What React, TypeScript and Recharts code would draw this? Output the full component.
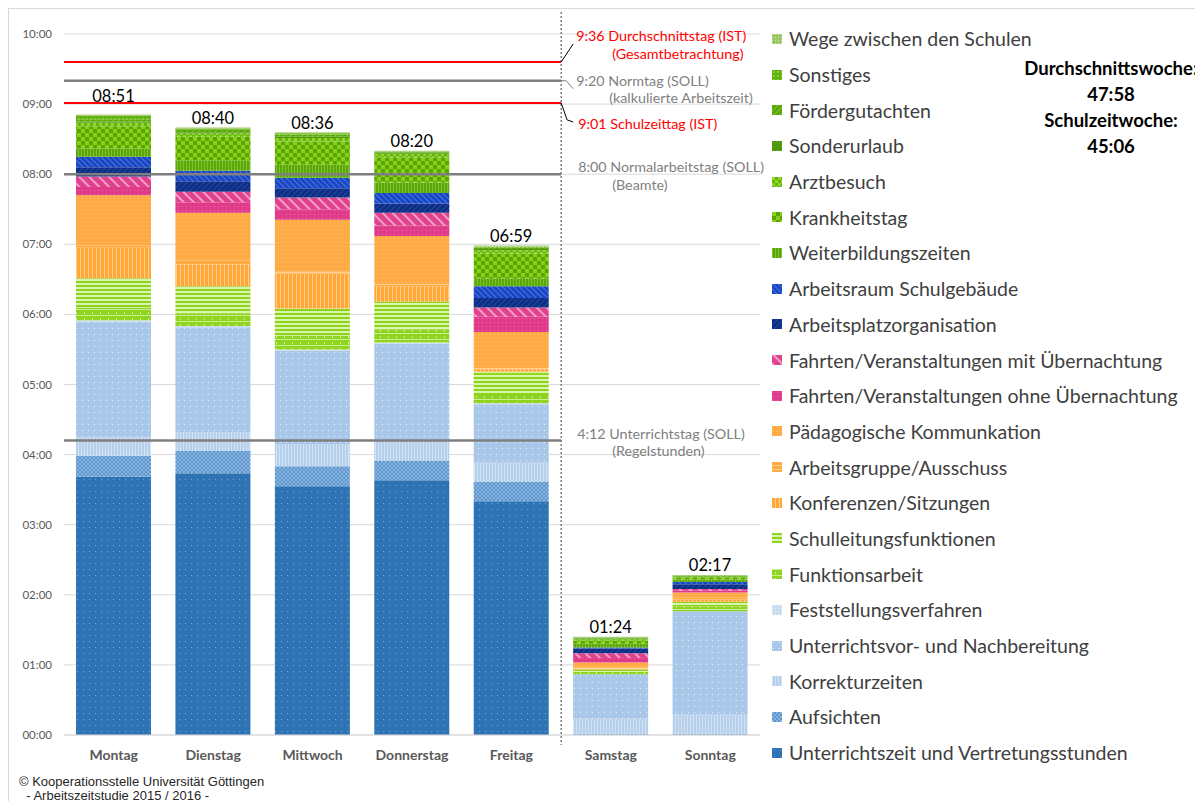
import React from 'react';
import { BarChart, Bar, XAxis, YAxis, CartesianGrid, ReferenceLine, LabelList, Legend } from 'recharts';

// ---- data (minutes per weekday) ----
const days = ['Montag', 'Dienstag', 'Mittwoch', 'Donnerstag', 'Freitag', 'Samstag', 'Sonntag'];
const unterrichtszeit = [221, 224, 213, 218, 200, 0.5, 0.5];
const aufsichten = [18, 19, 17, 17, 17, 0.5, 0.5];
const korrekturzeiten = [16, 16, 19, 16, 16, 13, 17];
const unterrichtsvor = [99, 90, 80, 84, 50, 38, 88];
const feststellung = [1, 1, 1, 1, 1, 0, 0];
const funktionsarbeit = [11, 11, 12, 11, 7, 2, 4];
const schulleitung = [25, 23, 23, 24, 20, 2, 4];
const konferenzen = [26, 19, 30, 13, 2, 1, 2];
const arbeitsgruppe = [2, 3, 2, 2, 2, 1, 2];
const paedKomm = [43, 41, 44, 41, 30, 4, 4];
const fahrtenOhne = [7, 9, 9, 9, 13, 4, 1.5];
const fahrtenMit = [9, 9, 10, 11, 8, 4, 1.5];
const arbeitsplatz = [8, 9, 8, 8, 8, 4, 4];
const arbeitsraum = [9, 9, 9, 9, 10, 1, 2];
const weiterbildung = [7, 9, 11, 9, 7, 3, 2];
const krankheitstag = [19, 20, 20, 21.5, 21, 3, 2];
const arztbesuch = [3, 3, 3, 3, 3, 1, 0.5];
const sonderurlaub = [1, 1, 1, 1, 1, 0.5, 0];
const foerdergutachten = [2, 2, 2, 0.5, 1, 0.5, 0.5];
const sonstiges = [3, 1, 1, 0.5, 1, 0.5, 0.5];
const wege = [1, 1, 1, 0.5, 1, 0.5, 0.5];

const seriesNames = [
  'Unterrichtszeit und Vertretungsstunden', 'Aufsichten', 'Korrekturzeiten',
  'Unterrichtsvor- und Nachbereitung', 'Feststellungsverfahren', 'Funktionsarbeit',
  'Schulleitungsfunktionen', 'Konferenzen/Sitzungen', 'Arbeitsgruppe/Ausschuss',
  'Pädagogische Kommunkation', 'Fahrten/Veranstaltungen ohne Übernachtung',
  'Fahrten/Veranstaltungen mit Übernachtung', 'Arbeitsplatzorganisation',
  'Arbeitsraum Schulgebäude', 'Weiterbildungszeiten', 'Krankheitstag', 'Arztbesuch',
  'Sonderurlaub', 'Fördergutachten', 'Sonstiges', 'Wege zwischen den Schulen',
];
const seriesValues = [
  unterrichtszeit, aufsichten, korrekturzeiten, unterrichtsvor, feststellung, funktionsarbeit,
  schulleitung, konferenzen, arbeitsgruppe, paedKomm, fahrtenOhne, fahrtenMit, arbeitsplatz,
  arbeitsraum, weiterbildung, krankheitstag, arztbesuch, sonderurlaub, foerdergutachten,
  sonstiges, wege,
];

// reference values (minutes)
const refDurchschnitt = 576;
const refNormtag = 560;
const refSchulzeit = 541;
const refNormal = 480;
const refUnterricht = 252;
const yTicks = [0, 60, 120, 180, 240, 300, 360, 420, 480, 540, 600];
const weekendStart = 'Samstag';

const weekInfo = ['Durchschnittswoche:', '47:58', 'Schulzeitwoche:', '45:06'];

// ---- styles ----
const patternIds = [
  'pt-u', 'pt-a', 'pt-k', 'pt-v', 'pt-f', 'pt-fu', 'pt-s', 'pt-ko', 'pt-ag', 'pt-p', 'pt-fo',
  'pt-fm', 'pt-apo', 'pt-ar', 'pt-wb', 'pt-kr', 'pt-arzt', 'pt-su', 'pt-fg', 'pt-so', 'pt-w',
];
const RED = '#ff0000';
const GREY = '#7f7f7f';
const FONT = 'Lato, "Open Sans", sans-serif';

const keys = seriesNames.map((_, i) => `s${i}`);
const data = days.map((d, di) => {
  const row: Record<string, any> = { day: d };
  seriesValues.forEach((arr, si) => { row[keys[si]] = arr[di]; });
  return row;
});
const totals = days.map((_, di) => seriesValues.reduce((a, arr) => a + arr[di], 0));
const fmt = (m: number) => {
  const r = Math.round(m);
  return `${String(Math.floor(r / 60)).padStart(2, '0')}:${String(r % 60).padStart(2, '0')}`;
};
const cutFrac = days.indexOf(weekendStart) / days.length;

const Defs = () => (
  <defs>
    <pattern id="pt-u" width="6" height="6" patternUnits="userSpaceOnUse">
      <rect width="6" height="6" fill="#2e74b5" />
      <rect x="2" y="2" width="1" height="1" fill="#76a5d6" />
    </pattern>
    <pattern id="pt-a" width="4" height="4" patternUnits="userSpaceOnUse">
      <rect width="4" height="4" fill="#5d95cd" />
      <rect width="2" height="2" fill="#8ab4e0" />
      <rect x="2" y="2" width="2" height="2" fill="#8ab4e0" />
    </pattern>
    <pattern id="pt-k" width="3" height="3" patternUnits="userSpaceOnUse">
      <rect width="3" height="3" fill="#b6d0ec" />
      <rect width="1" height="3" fill="#d2e3f5" />
    </pattern>
    <pattern id="pt-v" width="6" height="6" patternUnits="userSpaceOnUse">
      <rect width="6" height="6" fill="#a9c8e9" />
      <rect x="1" y="1" width="1" height="1" fill="#e6f0fa" />
    </pattern>
    <pattern id="pt-f" width="3" height="3" patternUnits="userSpaceOnUse">
      <rect width="3" height="3" fill="#c9ddf1" />
      <rect width="1" height="1" fill="#e3edf8" />
    </pattern>
    <pattern id="pt-fu" width="8" height="6" patternUnits="userSpaceOnUse">
      <rect width="8" height="6" fill="#8fd421" />
      <rect y="0" width="8" height="1" fill="#c8ef90" />
      <rect x="3" y="3" width="1" height="2" fill="#c8ef90" />
    </pattern>
    <pattern id="pt-s" width="4" height="4" patternUnits="userSpaceOnUse">
      <rect width="4" height="4" fill="#90d31c" />
      <rect y="2" width="4" height="2" fill="#d8f4ae" />
    </pattern>
    <pattern id="pt-ko" width="4" height="4" patternUnits="userSpaceOnUse">
      <rect width="4" height="4" fill="#ffa739" />
      <rect x="3" width="1" height="4" fill="#ffcf8e" />
    </pattern>
    <pattern id="pt-ag" width="4" height="4" patternUnits="userSpaceOnUse">
      <rect width="4" height="4" fill="#ffab42" />
      <rect y="3" width="4" height="1" fill="#ffcf8e" />
    </pattern>
    <pattern id="pt-p" width="4" height="4" patternUnits="userSpaceOnUse">
      <rect width="4" height="4" fill="#ffab45" />
      <rect x="1" y="1" width="1" height="1" fill="#ffc373" />
    </pattern>
    <pattern id="pt-fo" width="4" height="4" patternUnits="userSpaceOnUse">
      <rect width="4" height="4" fill="#e03a8a" />
      <rect x="1" y="1" width="1" height="1" fill="#ee6eaa" />
    </pattern>
    <pattern id="pt-fm" width="7" height="7" patternUnits="userSpaceOnUse" patternTransform="rotate(-45)">
      <rect width="7" height="7" fill="#e0428d" />
      <rect width="2" height="7" fill="#f49dc5" />
    </pattern>
    <pattern id="pt-apo" width="4" height="4" patternUnits="userSpaceOnUse" patternTransform="rotate(45)">
      <rect width="4" height="4" fill="#0d2e85" />
      <rect width="1" height="4" fill="#23479f" />
    </pattern>
    <pattern id="pt-ar" width="4" height="4" patternUnits="userSpaceOnUse" patternTransform="rotate(-45)">
      <rect width="4" height="4" fill="#1947c4" />
      <rect width="1" height="4" fill="#4a75e0" />
    </pattern>
    <pattern id="pt-wb" width="3" height="3" patternUnits="userSpaceOnUse">
      <rect width="3" height="3" fill="#5ca60d" />
      <rect width="1" height="3" fill="#7cc229" />
    </pattern>
    <pattern id="pt-kr" width="8" height="8" patternUnits="userSpaceOnUse">
      <rect width="8" height="8" fill="#5ea400" />
      <rect width="4" height="4" fill="#85d11d" />
      <rect x="4" y="4" width="4" height="4" fill="#85d11d" />
    </pattern>
    <pattern id="pt-arzt" width="6" height="6" patternUnits="userSpaceOnUse">
      <rect width="6" height="6" fill="#66b40a" />
      <rect width="3" height="3" fill="#8fd631" />
      <rect x="3" y="3" width="3" height="3" fill="#8fd631" />
    </pattern>
    <pattern id="pt-su" width="4" height="4" patternUnits="userSpaceOnUse">
      <rect width="4" height="4" fill="#4f980b" />
      <rect x="1" y="1" width="1" height="1" fill="#6db525" />
    </pattern>
    <pattern id="pt-fg" width="4" height="4" patternUnits="userSpaceOnUse" patternTransform="rotate(45)">
      <rect width="4" height="4" fill="#5aa60b" />
      <rect width="1" height="4" fill="#79c128" />
    </pattern>
    <pattern id="pt-so" width="4" height="4" patternUnits="userSpaceOnUse">
      <rect width="4" height="4" fill="#62b20e" />
      <rect x="1" y="1" width="2" height="2" fill="#86cd3b" />
    </pattern>
    <pattern id="pt-w" width="3" height="3" patternUnits="userSpaceOnUse">
      <rect width="3" height="3" fill="#9cc86a" />
      <rect width="1" height="1" fill="#c9e4a8" />
    </pattern>
  </defs>
);

const txt = (x: number, y: number, s: string, color: string) => (
  <text key={s} x={x} y={y} fill={color} fontSize={14.3} fontFamily={FONT} dominantBaseline="central">{s}</text>
);

const mkShape = (kind: string) => (p: any) => {
  const xa = Math.min(p.x1, p.x2);
  const xfull = Math.max(p.x1, p.x2);
  const xb = xa + (xfull - xa) * cutFrac;
  const y = p.y1;
  let color = GREY;
  let w = 2.5;
  let extra: React.ReactNode = null;
  if (kind === 'durch') {
    color = RED; w = 2;
    extra = (<g>
      <path d={`M${xb},${y} L${xb + 12},${y - 18}`} stroke="#000" strokeWidth={1} fill="none" />
      {txt(xb + 15, y - 27, '9:36 Durchschnittstag (IST)', RED)}
      {txt(xb + 51, y - 9, '(Gesamtbetrachtung)', RED)}
    </g>);
  } else if (kind === 'norm') {
    extra = (<g>
      <path d={`M${xb},${y} L${xb + 5},${y} L${xb + 12},${y + 8}`} stroke={GREY} strokeWidth={1} fill="none" />
      {txt(xb + 15, y, '9:20 Normtag (SOLL)', GREY)}
      {txt(xb + 48, y + 17, '(kalkulierte Arbeitszeit)', GREY)}
    </g>);
  } else if (kind === 'schul') {
    color = RED; w = 2;
    extra = (<g>
      <path d={`M${xb},${y} L${xb + 6},${y + 17} L${xb + 12},${y + 19}`} stroke="#000" strokeWidth={1} fill="none" />
      {txt(xb + 17, y + 21, '9:01 Schulzeittag (IST)', RED)}
    </g>);
  } else if (kind === 'normal') {
    extra = (<g>
      {txt(xb + 17, y - 8, '8:00 Normalarbeitstag (SOLL)', GREY)}
      {txt(xb + 51, y + 10, '(Beamte)', GREY)}
    </g>);
  } else {
    extra = (<g>
      {txt(xb + 16, y - 7, '4:12 Unterrichtstag (SOLL)', GREY)}
      {txt(xb + 51, y + 10, '(Regelstunden)', GREY)}
    </g>);
  }
  return (
    <g>
      <line x1={xa} y1={y} x2={xb} y2={y} stroke={color} strokeWidth={w} />
      {extra}
    </g>
  );
};

const dottedShape = (p: any) => {
  const x = p.x1;
  const top = Math.min(p.y1, p.y2);
  const bot = Math.max(p.y1, p.y2);
  return <line x1={x} y1={top - 22} x2={x} y2={bot + 10} stroke="#404040" strokeWidth={1} strokeDasharray="2 2" />;
};

const renderLegend = () => (
  <div style={{ fontFamily: FONT }}>
    {seriesNames.map((n, i) => ({ n, i })).reverse().map(({ n, i }) => (
      <div key={n} style={{ height: 35.7, display: 'flex', alignItems: 'center' }}>
        <svg width={10} height={10} style={{ marginRight: 7, flex: 'none' }}>
          <rect width={10} height={10} fill={`url(#${patternIds[i]})`} />
        </svg>
        <span style={{ fontSize: 19.5, color: '#404040', whiteSpace: 'nowrap' }}>{n}</span>
      </div>
    ))}
  </div>
);

export default function App() {
  return (
    <div style={{ position: 'relative', width: 1200, height: 795, borderLeft: '1px solid #d9d9d9', borderTop: '1px solid #d9d9d9', overflow: 'hidden' }}>
      <style>{'html,body{overflow:hidden}'}</style>
      <BarChart width={1194} height={770} data={data} margin={{ top: 25, right: 443, bottom: 14, left: 10 }}>
        <Defs />
        <CartesianGrid vertical={false} stroke="#d9d9d9" />
        <XAxis dataKey="day" axisLine={{ stroke: '#d9d9d9' }} tickLine={false} tickMargin={9}
          tick={{ fill: '#595959', fontSize: 14, fontWeight: 700, fontFamily: FONT }} height={30} />
        <YAxis domain={[0, 600]} ticks={yTicks} width={45} axisLine={false} tickLine={false} tickMargin={6}
          tickFormatter={(v: number) => `${String(v / 60).padStart(2, '0')}:00`}
          tick={{ fill: '#595959', fontSize: 11.5, fontFamily: FONT }} />
        {keys.map((k, i) => (
          <Bar key={k} dataKey={k} name={seriesNames[i]} stackId="a" fill={`url(#${patternIds[i]})`}
            barSize={75} isAnimationActive={false}>
            {i === keys.length - 1 && (
              <LabelList dataKey={k} content={(p: any) => (
                <text x={p.x + p.width / 2} y={p.y - (p.index === 0 ? 19 : 9.5)} textAnchor="middle"
                  dominantBaseline="central" fontSize={16.5} fontFamily={FONT} fill="#000">{fmt(totals[p.index])}</text>
              )} />
            )}
          </Bar>
        ))}
        <ReferenceLine x={weekendStart} position="start" shape={dottedShape} />
        <ReferenceLine y={refUnterricht} shape={mkShape('unt')} />
        <ReferenceLine y={refNormal} shape={mkShape('normal')} />
        <ReferenceLine y={refNormtag} shape={mkShape('norm')} />
        <ReferenceLine y={refSchulzeit} shape={mkShape('schul')} />
        <ReferenceLine y={refDurchschnitt} shape={mkShape('durch')} />
        <Legend layout="vertical" align="center" verticalAlign="middle" content={renderLegend}
          wrapperStyle={{ position: 'absolute', left: 763, top: 12, width: 425 }} />
      </BarChart>
      <div style={{ position: 'absolute', left: 1002, top: 46, width: 200, textAlign: 'center', fontFamily: FONT, fontWeight: 700, fontSize: 18.5, color: '#000' }}>
        {weekInfo.map((s, i) => (<div key={i} style={{ height: 26, lineHeight: '26px' }}>{s}</div>))}
      </div>
      <div style={{ position: 'absolute', left: 10, top: 766, fontFamily: '"Liberation Sans", Arial, sans-serif', fontSize: 13, lineHeight: '14px', color: '#262626', whiteSpace: 'pre' }}>
        <div>© Kooperationsstelle Universität Göttingen</div>
        <div>{'  - Arbeitszeitstudie 2015 / 2016 -'}</div>
      </div>
    </div>
  );
}
